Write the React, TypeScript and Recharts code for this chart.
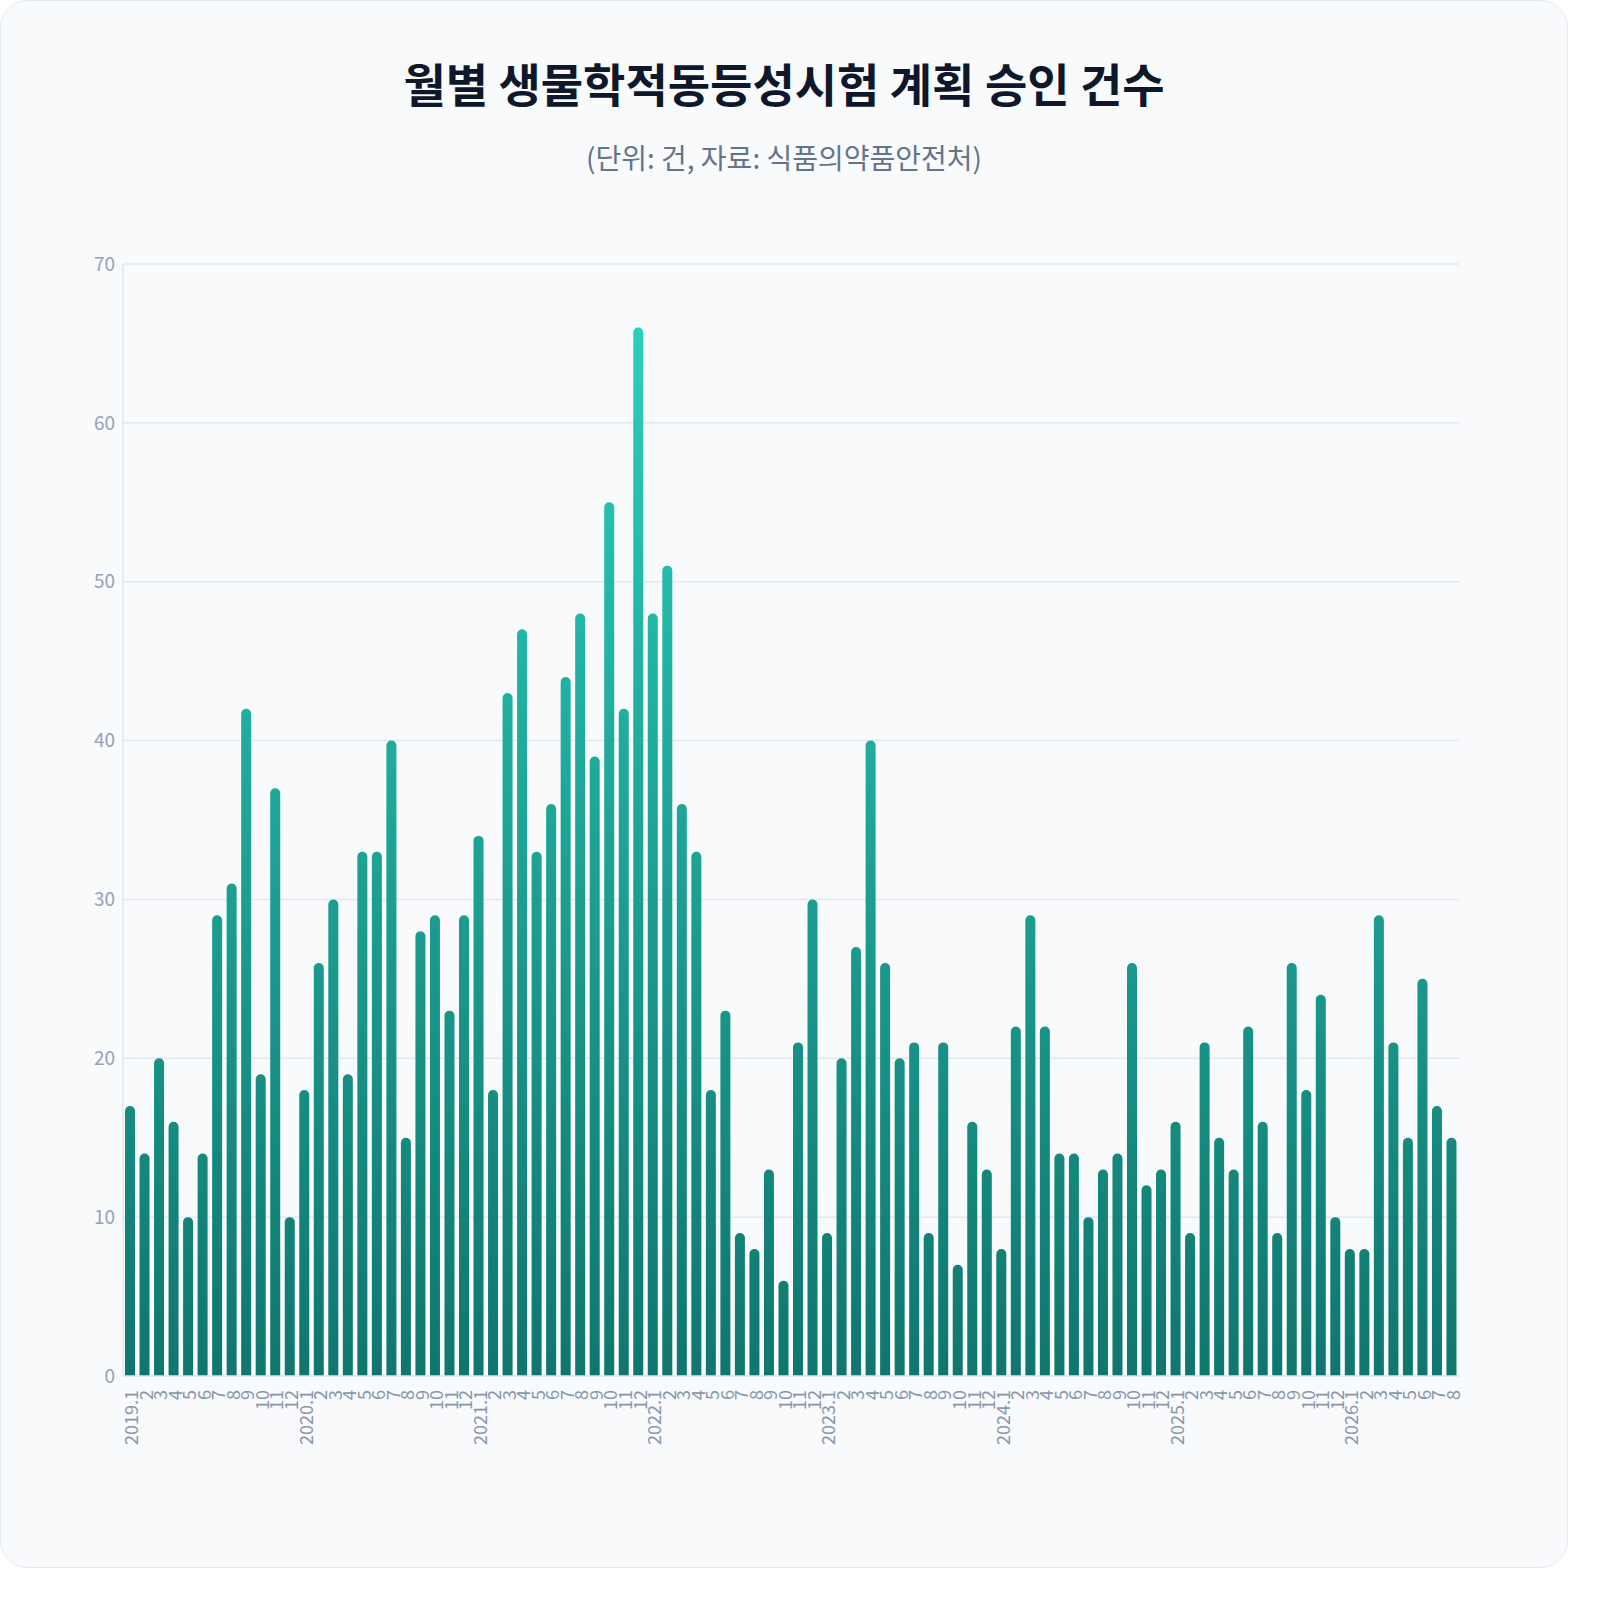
import React from 'react';
import { BarChart, Bar, XAxis, YAxis, CartesianGrid } from 'recharts';

const years = [2019, 2020, 2021, 2022, 2023, 2024, 2025, 2026];
const monthsPerYear = [12, 12, 12, 12, 12, 12, 12, 8];

const approvals = [
  17, 14, 20, 16, 10, 14, 29, 31, 42, 19, 37, 10,
  18, 26, 30, 19, 33, 33, 40, 15, 28, 29, 23, 29,
  34, 18, 43, 47, 33, 36, 44, 48, 39, 55, 42, 66,
  48, 51, 36, 33, 18, 23, 9, 8, 13, 6, 21, 30,
  9, 20, 27, 40, 26, 20, 21, 9, 21, 7, 16, 13,
  8, 22, 29, 22, 14, 14, 10, 13, 14, 26, 12, 13,
  16, 9, 21, 15, 13, 22, 16, 9, 26, 18, 24, 10,
  8, 8, 29, 21, 15, 25, 17, 15,
];

const yTicks = [0, 10, 20, 30, 40, 50, 60, 70];

const labels: string[] = [];
years.forEach((y, i) => {
  for (let m = 1; m <= monthsPerYear[i]; m++) labels.push(m === 1 ? `${y}.1` : `${m}`);
});

const data = labels.map((label, i) => ({ id: i, label, value: approvals[i] }));

const FONT = '"Noto Sans CJK KR", "Noto Sans", sans-serif';

function MonthTick({ x, y, payload }: any) {
  return (
    <text
      x={x}
      y={y + 6}
      transform={`rotate(-90, ${x}, ${y + 6})`}
      textAnchor="end"
      dominantBaseline="central"
      fontSize={18}
      fill="#8a97ab"
      fontFamily={FONT}
    >
      {labels[payload.value]}
    </text>
  );
}

export default function App() {
  return (
    <div
      style={{
        position: 'absolute',
        left: 0,
        top: 0,
        width: 1566,
        height: 1566,
        background: '#f8fafc',
        border: '1px solid #e2e8f0',
        borderRadius: 28,
        fontFamily: FONT,
      }}
    >
      <div style={{ position: 'absolute', top: 48, width: '100%', textAlign: 'center', fontSize: 46, fontWeight: 700, color: '#0f172a' }}>
        월별 생물학적동등성시험 계획 승인 건수
      </div>
      <div style={{ position: 'absolute', top: 136, width: '100%', textAlign: 'center', fontSize: 28, color: '#64748b' }}>
        (단위: 건, 자료: 식품의약품안전처)
      </div>
      <div style={{ position: 'absolute', top: 230, left: 0 }}>
        <BarChart
          width={1568}
          height={1290}
          data={data}
          margin={{ top: 33, right: 110, bottom: 50, left: 60 }}
        >
          <defs>
            <linearGradient id="barGrad" gradientUnits="userSpaceOnUse" x1="0" y1="33" x2="0" y2="1145">
              <stop offset="0%" stopColor="#2dd4bf" />
              <stop offset="100%" stopColor="#0f766e" />
            </linearGradient>
          </defs>
          <CartesianGrid vertical={false} stroke="#e2e8f0" strokeWidth={1.5} />
          <XAxis
            dataKey="id"
            type="category"
            interval={0}
            height={95}
            tick={<MonthTick />}
            tickLine={false}
            axisLine={{ stroke: '#e2e8f0', strokeWidth: 1.5 }}
          />
          <YAxis
            width={62}
            domain={[0, 70]}
            ticks={yTicks}
            tick={{ fontSize: 19, fill: '#94a3b8', fontFamily: FONT }}
            tickLine={false}
            axisLine={{ stroke: '#e2e8f0', strokeWidth: 1.5 }}
          />
          <Bar dataKey="value" fill="url(#barGrad)" barSize={10} radius={[5, 5, 0, 0]} isAnimationActive={false} />
        </BarChart>
      </div>
    </div>
  );
}
